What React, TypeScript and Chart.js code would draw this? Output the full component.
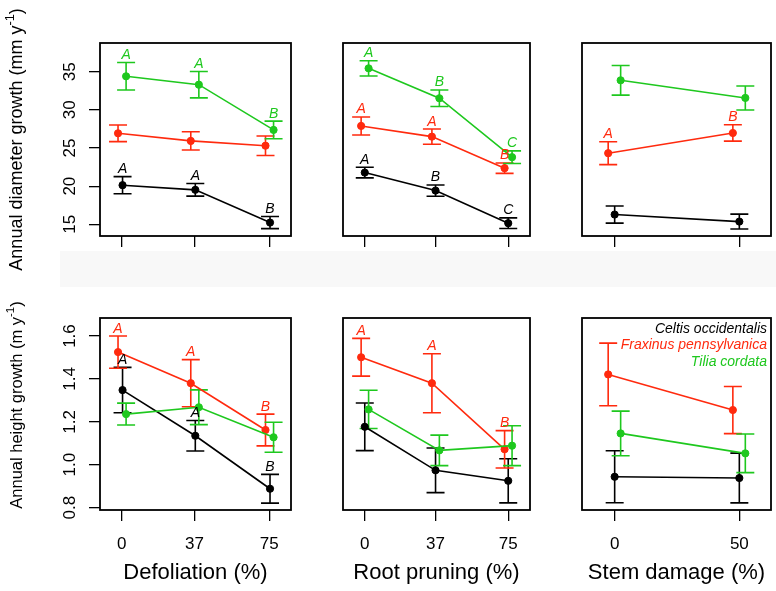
import React, { useEffect, useRef } from "react";
import { Chart, registerables } from "chart.js";

Chart.register(...registerables);

const FONT = "'Liberation Sans', Arial, Helvetica, sans-serif";
const BLACK = "#000000";
const RED = "#ff2a0e";
const GREEN = "#1ec81e";

const SPECIES = ["Celtis occidentalis", "Fraxinus pennsylvanica", "Tilia cordata"];
const SPECIES_COLORS = [BLACK, RED, GREEN];

// treatment levels
const DEFOL_X = [0, 37, 75];
const ROOT_X = [0, 37, 75];
const STEM_X = [0, 50];

// tick labels
const DIAM_TICKS = [15, 20, 25, 30, 35];
const HEIGHT_TICKS = [0.8, 1.0, 1.2, 1.4, 1.6];

// ---- Annual diameter growth (mm / yr): mean and error half-width ----
const diamDefolCeltis = [20.13, 19.52, 15.23];
const diamDefolCeltisErr = [1.12, 0.83, 0.79];
const diamDefolFraxinus = [26.93, 25.93, 25.3];
const diamDefolFraxinusErr = [1.09, 1.2, 1.28];
const diamDefolTilia = [34.4, 33.3, 27.37];
const diamDefolTiliaErr = [1.8, 1.73, 1.15];

const diamRootCeltis = [21.78, 19.42, 15.15];
const diamRootCeltisErr = [0.69, 0.74, 0.7];
const diamRootFraxinus = [27.89, 26.49, 22.36];
const diamRootFraxinusErr = [1.18, 1.0, 0.68];
const diamRootTilia = [35.44, 31.52, 23.8];
const diamRootTiliaErr = [1.0, 1.09, 0.83];

const diamStemCeltis = [16.28, 15.36];
const diamStemCeltisErr = [1.12, 0.97];
const diamStemFraxinus = [24.32, 26.97];
const diamStemFraxinusErr = [1.5, 1.07];
const diamStemTilia = [33.87, 31.56];
const diamStemTiliaErr = [1.94, 1.57];

// ---- Annual height growth (m / yr) ----
const hgtDefolCeltis = [1.348, 1.135, 0.888];
const hgtDefolCeltisErr = [0.106, 0.071, 0.067];
const hgtDefolFraxinus = [1.525, 1.38, 1.162];
const hgtDefolFraxinusErr = [0.075, 0.11, 0.074];
const hgtDefolTilia = [1.236, 1.268, 1.128];
const hgtDefolTiliaErr = [0.051, 0.081, 0.07];

const hgtRootCeltis = [1.177, 0.974, 0.925];
const hgtRootCeltisErr = [0.111, 0.104, 0.103];
const hgtRootFraxinus = [1.501, 1.38, 1.072];
const hgtRootFraxinusErr = [0.088, 0.1375, 0.087];
const hgtRootTilia = [1.258, 1.067, 1.089];
const hgtRootTiliaErr = [0.089, 0.071, 0.093];

const hgtStemCeltis = [0.944, 0.938];
const hgtStemCeltisErr = [0.121, 0.116];
const hgtStemFraxinus = [1.421, 1.255];
const hgtStemFraxinusErr = [0.146, 0.11];
const hgtStemTilia = [1.146, 1.053];
const hgtStemTiliaErr = [0.104, 0.09];

// ---- significance letters ----
const diamDefolCeltisLet = ["A", "A", "B"];
const diamDefolFraxinusLet: string[] = [];
const diamDefolTiliaLet = ["A", "A", "B"];
const diamRootCeltisLet = ["A", "B", "C"];
const diamRootFraxinusLet = ["A", "A", "B"];
const diamRootTiliaLet = ["A", "B", "C"];
const diamStemCeltisLet: string[] = [];
const diamStemFraxinusLet = ["A", "B"];
const diamStemTiliaLet: string[] = [];
const hgtDefolCeltisLet = ["A", "A", "B"];
const hgtDefolFraxinusLet = ["A", "A", "B"];
const hgtDefolTiliaLet: string[] = [];
const hgtRootCeltisLet: string[] = [];
const hgtRootFraxinusLet = ["A", "A", "B"];
const hgtRootTiliaLet: string[] = [];
const hgtStemCeltisLet: string[] = [];
const hgtStemFraxinusLet: string[] = [];
const hgtStemTiliaLet: string[] = [];

// small horizontal offsets (x units) separating the species at each level
const DODGE_DEFOL = [0.4, -1.9, 2.2];
const DODGE_ROOT = [0, -1.9, 2.0];
const DODGE_STEM = [0, -2.6, 2.4];

type PanelCfg = {
  key: string;
  left: number;
  top: number;
  width: number;
  height: number;
  yAxisWidth: number;
  xAxisHeight: number;
  padTop: number;
  padRight: number;
  xs: number[];
  xMin: number;
  xMax: number;
  yMin: number;
  yMax: number;
  yTicks: number[];
  yDecimals: number;
  showY: boolean;
  showXLabels: boolean;
  xTitle?: string;
  yTitle?: string;
  yTitleSize?: number;
  yTitleShift?: number;
  legend?: boolean;
  means: number[][];
  errs: number[][];
  letters: string[][];
  dodge: number[];
};

const COL = [
  { left: 0, width: 296, yAxisWidth: 100 },
  { left: 333, width: 202, yAxisWidth: 10 },
  { left: 572, width: 204, yAxisWidth: 10 },
];
const ROW = [
  { top: 0, height: 290, padTop: 43, xAxisHeight: 54 },
  { top: 290, height: 301, padTop: 28, xAxisHeight: 81 },
];

function panel(r: number, c: number, rest: Partial<PanelCfg>): PanelCfg {
  return {
    key: `p${r}${c}`,
    left: COL[c].left,
    width: COL[c].width,
    yAxisWidth: COL[c].yAxisWidth,
    top: ROW[r].top,
    height: ROW[r].height,
    padTop: ROW[r].padTop,
    xAxisHeight: ROW[r].xAxisHeight,
    padRight: 3,
    showY: c === 0,
    showXLabels: r === 1,
    ...(rest as any),
  } as PanelCfg;
}

const DIAM_RANGE = { yMin: 13.47, yMax: 38.76, yTicks: DIAM_TICKS, yDecimals: 0 };
const HGT_RANGE = { yMin: 0.789, yMax: 1.684, yTicks: HEIGHT_TICKS, yDecimals: 1 };

const PANELS: PanelCfg[] = [
  panel(0, 0, {
    ...DIAM_RANGE, xs: DEFOL_X, xMin: -11.07, xMax: 86.07, dodge: DODGE_DEFOL,
    yTitle: "Annual diameter growth (mm y", yTitleSize: 18, yTitleShift: 0,
    means: [diamDefolCeltis, diamDefolFraxinus, diamDefolTilia],
    errs: [diamDefolCeltisErr, diamDefolFraxinusErr, diamDefolTiliaErr],
    letters: [diamDefolCeltisLet, diamDefolFraxinusLet, diamDefolTiliaLet],
  }),
  panel(0, 1, {
    ...DIAM_RANGE, xs: ROOT_X, xMin: -11.38, xMax: 86.38, dodge: DODGE_ROOT,
    means: [diamRootCeltis, diamRootFraxinus, diamRootTilia],
    errs: [diamRootCeltisErr, diamRootFraxinusErr, diamRootTiliaErr],
    letters: [diamRootCeltisLet, diamRootFraxinusLet, diamRootTiliaLet],
  }),
  panel(0, 2, {
    ...DIAM_RANGE, xs: STEM_X, xMin: -13.1, xMax: 62.7, dodge: DODGE_STEM,
    means: [diamStemCeltis, diamStemFraxinus, diamStemTilia],
    errs: [diamStemCeltisErr, diamStemFraxinusErr, diamStemTiliaErr],
    letters: [diamStemCeltisLet, diamStemFraxinusLet, diamStemTiliaLet],
  }),
  panel(1, 0, {
    ...HGT_RANGE, xs: DEFOL_X, xMin: -11.07, xMax: 86.07, dodge: DODGE_DEFOL,
    xTitle: "Defoliation (%)",
    yTitle: "Annual height growth (m y", yTitleSize: 16.5, yTitleShift: -9,
    means: [hgtDefolCeltis, hgtDefolFraxinus, hgtDefolTilia],
    errs: [hgtDefolCeltisErr, hgtDefolFraxinusErr, hgtDefolTiliaErr],
    letters: [hgtDefolCeltisLet, hgtDefolFraxinusLet, hgtDefolTiliaLet],
  }),
  panel(1, 1, {
    ...HGT_RANGE, xs: ROOT_X, xMin: -11.38, xMax: 86.38, dodge: DODGE_ROOT,
    xTitle: "Root pruning (%)",
    means: [hgtRootCeltis, hgtRootFraxinus, hgtRootTilia],
    errs: [hgtRootCeltisErr, hgtRootFraxinusErr, hgtRootTiliaErr],
    letters: [hgtRootCeltisLet, hgtRootFraxinusLet, hgtRootTiliaLet],
  }),
  panel(1, 2, {
    ...HGT_RANGE, xs: STEM_X, xMin: -13.1, xMax: 62.7, dodge: DODGE_STEM,
    xTitle: "Stem damage (%)", legend: true,
    means: [hgtStemCeltis, hgtStemFraxinus, hgtStemTilia],
    errs: [hgtStemCeltisErr, hgtStemFraxinusErr, hgtStemTiliaErr],
    letters: [hgtStemCeltisLet, hgtStemFraxinusLet, hgtStemTiliaLet],
  }),
];

const CAP = 9;

function makeDecor(cfg: PanelCfg) {
  return {
    id: "decor",
    beforeDatasetsDraw(chart: any) {
      const { ctx } = chart;
      const xs = chart.scales.x;
      const ys = chart.scales.y;
      chart.data.datasets.forEach((ds: any) => {
        ctx.save();
        ctx.strokeStyle = ds.borderColor;
        ctx.lineWidth = 1.6;
        ds.data.forEach((p: any, i: number) => {
          const e = ds.err[i];
          const px = xs.getPixelForValue(p.x);
          const y1 = ys.getPixelForValue(p.y + e);
          const y2 = ys.getPixelForValue(p.y - e);
          ctx.beginPath();
          ctx.moveTo(px, y1);
          ctx.lineTo(px, y2);
          ctx.moveTo(px - CAP, y1);
          ctx.lineTo(px + CAP, y1);
          ctx.moveTo(px - CAP, y2);
          ctx.lineTo(px + CAP, y2);
          ctx.stroke();
        });
        ctx.restore();
      });
    },
    afterDatasetsDraw(chart: any) {
      const { ctx, chartArea } = chart;
      const xs = chart.scales.x;
      const ys = chart.scales.y;
      // letters
      chart.data.datasets.forEach((ds: any) => {
        ctx.save();
        ctx.fillStyle = ds.borderColor;
        ctx.font = `italic 14px ${FONT}`;
        ctx.textAlign = "center";
        ctx.textBaseline = "alphabetic";
        ds.data.forEach((p: any, i: number) => {
          const l = ds.letters[i];
          if (!l) return;
          const px = xs.getPixelForValue(p.x);
          const y1 = ys.getPixelForValue(p.y + ds.err[i]);
          ctx.fillText(l, px, y1 - 3.5);
        });
        ctx.restore();
      });
      // box
      ctx.save();
      ctx.strokeStyle = "#000";
      ctx.lineWidth = 1.8;
      ctx.strokeRect(chartArea.left, chartArea.top, chartArea.right - chartArea.left, chartArea.bottom - chartArea.top);
      ctx.restore();
      // rotated y tick labels
      if (cfg.showY) {
        ctx.save();
        ctx.fillStyle = "#000";
        ctx.font = `17px ${FONT}`;
        ctx.textAlign = "center";
        ctx.textBaseline = "middle";
        ys.ticks.forEach((t: any) => {
          const py = ys.getPixelForValue(t.value);
          ctx.save();
          ctx.translate(chartArea.left - 30, py);
          ctx.rotate(-Math.PI / 2);
          ctx.fillText(t.value.toFixed(cfg.yDecimals), 0, 0);
          ctx.restore();
        });
        ctx.restore();
      }
      // y title with superscript
      if (cfg.yTitle) {
        const size = cfg.yTitleSize || 17;
        ctx.save();
        ctx.fillStyle = "#000";
        ctx.textBaseline = "middle";
        ctx.textAlign = "left";
        ctx.font = `${size}px ${FONT}`;
        const w1 = ctx.measureText(cfg.yTitle).width;
        const w3 = ctx.measureText(")").width;
        ctx.font = `${size * 0.7}px ${FONT}`;
        const w2 = ctx.measureText("-1").width;
        const total = w1 + w2 + w3;
        const cy = (chartArea.top + chartArea.bottom) / 2 + (cfg.yTitleShift || 0);
        ctx.translate(17.5, cy);
        ctx.rotate(-Math.PI / 2);
        let x0 = -total / 2;
        ctx.font = `${size}px ${FONT}`;
        ctx.fillText(cfg.yTitle, x0, 0);
        x0 += w1;
        ctx.font = `${size * 0.7}px ${FONT}`;
        ctx.fillText("-1", x0, -size * 0.38);
        x0 += w2;
        ctx.font = `${size}px ${FONT}`;
        ctx.fillText(")", x0, 0);
        ctx.restore();
      }
      // legend
      if (cfg.legend) {
        ctx.save();
        ctx.font = `italic 14px ${FONT}`;
        ctx.textAlign = "right";
        ctx.textBaseline = "middle";
        SPECIES.forEach((s, i) => {
          ctx.fillStyle = SPECIES_COLORS[i];
          ctx.fillText(s, chartArea.right - 4, chartArea.top + 11 + i * 16.5);
        });
        ctx.restore();
      }
    },
  };
}

function Panel({ cfg }: { cfg: PanelCfg }) {
  const ref = useRef<HTMLCanvasElement | null>(null);
  useEffect(() => {
    if (!ref.current) return;
    const datasets = SPECIES.map((s, si) => ({
      label: s,
      data: cfg.xs.map((x, i) => ({ x: x + cfg.dodge[si], y: cfg.means[si][i] })),
      err: cfg.errs[si],
      letters: cfg.letters[si],
      borderColor: SPECIES_COLORS[si],
      backgroundColor: SPECIES_COLORS[si],
      pointBackgroundColor: SPECIES_COLORS[si],
      pointBorderColor: SPECIES_COLORS[si],
      pointRadius: 3.6,
      pointBorderWidth: 1,
      borderWidth: 1.6,
      tension: 0,
      order: 2 - si,
    }));
    const chart = new Chart(ref.current, {
      type: "line",
      data: { datasets } as any,
      options: {
        animation: false,
        responsive: false,
        devicePixelRatio: 1,
        events: [],
        layout: { padding: { top: cfg.padTop, right: cfg.padRight, left: 0, bottom: 0 } },
        plugins: { legend: { display: false }, tooltip: { enabled: false } },
        scales: {
          x: {
            type: "linear",
            min: cfg.xMin,
            max: cfg.xMax,
            afterBuildTicks: (s: any) => {
              s.ticks = cfg.xs.map((v) => ({ value: v }));
            },
            afterFit: (s: any) => {
              s.height = cfg.xAxisHeight;
            },
            grid: {
              display: true,
              drawOnChartArea: false,
              drawTicks: true,
              tickLength: 11,
              color: "#000",
              lineWidth: 1.3,
            },
            border: { display: false },
            ticks: {
              display: cfg.showXLabels,
              color: "#000",
              font: { size: 17, family: FONT },
              padding: 13,
              maxRotation: 0,
              autoSkip: false,
            },
            title: {
              display: !!cfg.xTitle,
              text: cfg.xTitle || "",
              color: "#000",
              font: { size: 22, family: FONT },
              padding: { top: 0, bottom: 4.8 },
            },
          },
          y: {
            type: "linear",
            min: cfg.yMin,
            max: cfg.yMax,
            afterBuildTicks: (s: any) => {
              s.ticks = cfg.yTicks.map((v) => ({ value: v }));
            },
            afterFit: (s: any) => {
              s.width = cfg.yAxisWidth;
            },
            grid: {
              display: cfg.showY,
              drawOnChartArea: false,
              drawTicks: true,
              tickLength: 11,
              color: "#000",
              lineWidth: 1.3,
            },
            border: { display: false },
            ticks: { display: false },
          },
        },
      } as any,
      plugins: [makeDecor(cfg)],
    });
    return () => chart.destroy();
  }, [cfg]);
  return (
    <canvas
      ref={ref}
      width={cfg.width}
      height={cfg.height}
      style={{ position: "absolute", left: cfg.left, top: cfg.top, width: cfg.width, height: cfg.height }}
    />
  );
}

export default function App() {
  return (
    <div style={{ position: "absolute", left: 0, top: 0, width: 776, height: 591, background: "#ffffff", overflow: "hidden" }}>
      <div style={{ position: "absolute", left: 60, top: 251, width: 716, height: 36, background: "#f8f8f8" }} />
      {PANELS.map((p) => (
        <Panel key={p.key} cfg={p} />
      ))}
    </div>
  );
}
